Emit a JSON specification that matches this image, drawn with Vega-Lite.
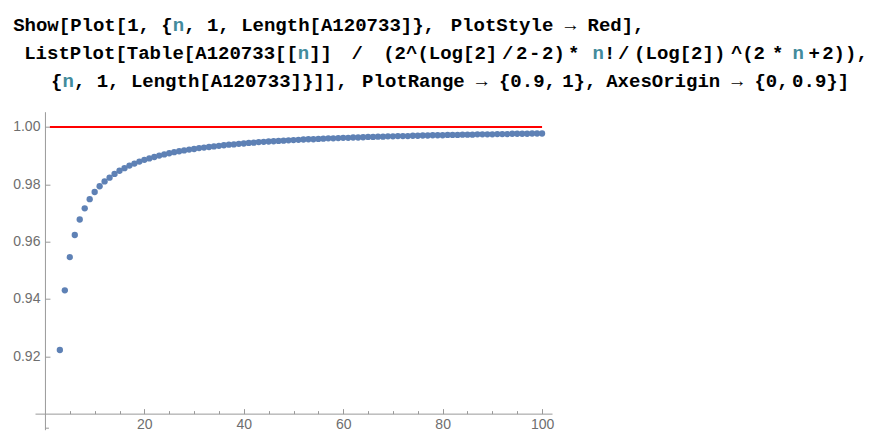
{
  "$schema": "https://vega.github.io/schema/vega-lite/v6.json",
  "background": "white",
  "padding": 0,
  "spacing": 11.7,
  "config": {"view": {"stroke": null}},
  "resolve": {"scale": {"x": "independent", "y": "independent", "color": "independent"}},
  "vconcat": [
    {
      "width": 842.15,
      "height": 100,
      "data": {"values": [
        {"line": 0, "col": 1.14, "t": "Show[Plot[1, {", "k": "code"},
        {"line": 0, "col": 15.14, "t": "n", "k": "var"},
        {"line": 0, "col": 16.14, "t": ", 1, Length[A120733]},", "k": "code"},
        {"line": 0, "col": 39.52, "t": "PlotStyle → Red],", "k": "code"},
        {"line": 1, "col": 2.11, "t": "ListPlot[Table[A120733[[", "k": "code"},
        {"line": 1, "col": 26.11, "t": "n", "k": "var"},
        {"line": 1, "col": 27.11, "t": "]]", "k": "code"},
        {"line": 1, "col": 30.82, "t": "/", "k": "code"},
        {"line": 1, "col": 33.6, "t": "(2^(Log[2]", "k": "code"},
        {"line": 1, "col": 44.02, "t": "/", "k": "code"},
        {"line": 1, "col": 45.25, "t": "2", "k": "code"},
        {"line": 1, "col": 46.39, "t": "-", "k": "code"},
        {"line": 1, "col": 47.54, "t": "2)", "k": "code"},
        {"line": 1, "col": 49.81, "t": "*", "k": "code"},
        {"line": 1, "col": 51.96, "t": "n", "k": "var"},
        {"line": 1, "col": 52.96, "t": "!", "k": "code"},
        {"line": 1, "col": 54.19, "t": "/", "k": "code"},
        {"line": 1, "col": 55.61, "t": "(Log[2])", "k": "code"},
        {"line": 1, "col": 64.11, "t": "^", "k": "code"},
        {"line": 1, "col": 65.09, "t": "(2", "k": "code"},
        {"line": 1, "col": 67.7, "t": "*", "k": "code"},
        {"line": 1, "col": 69.5, "t": "n", "k": "var"},
        {"line": 1, "col": 70.9, "t": "+", "k": "code"},
        {"line": 1, "col": 72.11, "t": "2)),", "k": "code"},
        {"line": 2, "col": 4.47, "t": "{", "k": "code"},
        {"line": 2, "col": 5.47, "t": "n", "k": "var"},
        {"line": 2, "col": 6.47, "t": ", 1, Length[A120733]}]],", "k": "code"},
        {"line": 2, "col": 31.75, "t": "PlotRange → {0.9,", "k": "code"},
        {"line": 2, "col": 49.3, "t": "1},", "k": "code"},
        {"line": 2, "col": 53.16, "t": "AxesOrigin → {0,", "k": "code"},
        {"line": 2, "col": 69.47, "t": "0.9}]", "k": "code"}
      ]},
      "mark": {"type": "text", "font": "Liberation Mono", "fontWeight": "bold", "fontSize": 19, "align": "left", "baseline": "alphabetic"},
      "encoding": {
        "x": {"field": "col", "type": "quantitative", "scale": {"domain": [3.057, 76.93], "nice": false, "zero": false}, "axis": null},
        "y": {"field": "line", "type": "quantitative", "scale": {"domain": [-1.0906, 2.4618], "reverse": true, "nice": false, "zero": false}, "axis": null},
        "text": {"field": "t"},
        "color": {"field": "k", "type": "nominal", "scale": {"domain": ["code", "var"], "range": ["#000000", "#438b9c"]}, "legend": null}
      }
    },
    {
      "width": 517,
      "height": 318,
      "resolve": {"axis": {"x": "independent"}},
      "layer": [
        {
          "data": {"values": [{"n": 1, "v": 1}, {"n": 100, "v": 1}]},
          "mark": {"type": "line", "color": "#ff0000", "strokeWidth": 2},
          "encoding": {
            "x": {"field": "n", "type": "quantitative", "scale": {"domain": [-2, 102], "nice": false, "zero": false},
              "axis": {"title": null, "orient": "bottom", "offset": -16.06, "grid": false,
                "values": [20, 40, 60, 80, 100],
                "tickSize": -5, "labelPadding": 9,
                "domainColor": "#999999", "tickColor": "#999999", "labelColor": "#6e6e6e",
                "labelFont": "Liberation Sans", "labelFontSize": 14}},
            "y": {"field": "v", "type": "quantitative", "scale": {"domain": [0.8944, 1.0053], "nice": false, "zero": false},
              "axis": {"title": null, "orient": "left", "offset": -9.94, "grid": false,
                "values": [0.895, 0.905, 0.91, 0.915, 0.92, 0.925, 0.93, 0.935, 0.94, 0.945, 0.95, 0.955, 0.96, 0.965, 0.97, 0.975, 0.98, 0.985, 0.99, 0.995, 1.0, 1.005],
                "labelExpr": "abs(datum.value * 50 - round(datum.value * 50)) < 0.001 ? format(datum.value, '.2f') : ''",
                "tickSize": {"condition": {"test": "abs(datum.value * 50 - round(datum.value * 50)) < 0.001", "value": -5}, "value": -3.5},
                "labelPadding": 10, "labelOverlap": false, "labelFlush": false, "minExtent": 44.8,
                "domainColor": "#999999", "tickColor": "#999999", "labelColor": "#6e6e6e",
                "labelFont": "Liberation Sans", "labelFontSize": 14}}
          }
        },
        {
          "data": {"values": [
            {"n": 3, "v": 0.9222}, {"n": 4, "v": 0.943}, {"n": 5, "v": 0.9546}, {"n": 6, "v": 0.9623},
            {"n": 7, "v": 0.9677}, {"n": 8, "v": 0.9716}, {"n": 9, "v": 0.9748}, {"n": 10, "v": 0.9773},
            {"n": 11, "v": 0.9793}, {"n": 12, "v": 0.981}, {"n": 13, "v": 0.9823}, {"n": 14, "v": 0.9836},
            {"n": 15, "v": 0.9847}, {"n": 16, "v": 0.9856}, {"n": 17, "v": 0.9865}, {"n": 18, "v": 0.9872},
            {"n": 19, "v": 0.9879}, {"n": 20, "v": 0.9885}, {"n": 21, "v": 0.989}, {"n": 22, "v": 0.9895},
            {"n": 23, "v": 0.99}, {"n": 24, "v": 0.9904}, {"n": 25, "v": 0.9908}, {"n": 26, "v": 0.9912},
            {"n": 27, "v": 0.9915}, {"n": 28, "v": 0.9918}, {"n": 29, "v": 0.9921}, {"n": 30, "v": 0.9923},
            {"n": 31, "v": 0.9926}, {"n": 32, "v": 0.9928}, {"n": 33, "v": 0.993}, {"n": 34, "v": 0.9932},
            {"n": 35, "v": 0.9934}, {"n": 36, "v": 0.9936}, {"n": 37, "v": 0.9938}, {"n": 38, "v": 0.9939},
            {"n": 39, "v": 0.9941}, {"n": 40, "v": 0.9942}, {"n": 41, "v": 0.9944}, {"n": 42, "v": 0.9945},
            {"n": 43, "v": 0.9947}, {"n": 44, "v": 0.9948}, {"n": 45, "v": 0.9949}, {"n": 46, "v": 0.995},
            {"n": 47, "v": 0.9951}, {"n": 48, "v": 0.9952}, {"n": 49, "v": 0.9953}, {"n": 50, "v": 0.9954},
            {"n": 51, "v": 0.9955}, {"n": 52, "v": 0.9956}, {"n": 53, "v": 0.9957}, {"n": 54, "v": 0.9957},
            {"n": 55, "v": 0.9958}, {"n": 56, "v": 0.9959}, {"n": 57, "v": 0.996}, {"n": 58, "v": 0.996},
            {"n": 59, "v": 0.9961}, {"n": 60, "v": 0.9962}, {"n": 61, "v": 0.9962}, {"n": 62, "v": 0.9963},
            {"n": 63, "v": 0.9963}, {"n": 64, "v": 0.9964}, {"n": 65, "v": 0.9965}, {"n": 66, "v": 0.9965},
            {"n": 67, "v": 0.9966}, {"n": 68, "v": 0.9966}, {"n": 69, "v": 0.9967}, {"n": 70, "v": 0.9967},
            {"n": 71, "v": 0.9968}, {"n": 72, "v": 0.9968}, {"n": 73, "v": 0.9968}, {"n": 74, "v": 0.9969},
            {"n": 75, "v": 0.9969}, {"n": 76, "v": 0.997}, {"n": 77, "v": 0.997}, {"n": 78, "v": 0.9971},
            {"n": 79, "v": 0.9971}, {"n": 80, "v": 0.9971}, {"n": 81, "v": 0.9972}, {"n": 82, "v": 0.9972},
            {"n": 83, "v": 0.9972}, {"n": 84, "v": 0.9973}, {"n": 85, "v": 0.9973}, {"n": 86, "v": 0.9973},
            {"n": 87, "v": 0.9974}, {"n": 88, "v": 0.9974}, {"n": 89, "v": 0.9974}, {"n": 90, "v": 0.9974},
            {"n": 91, "v": 0.9975}, {"n": 92, "v": 0.9975}, {"n": 93, "v": 0.9975}, {"n": 94, "v": 0.9976},
            {"n": 95, "v": 0.9976}, {"n": 96, "v": 0.9976}, {"n": 97, "v": 0.9976}, {"n": 98, "v": 0.9977},
            {"n": 99, "v": 0.9977}, {"n": 100, "v": 0.9977}
          ]},
          "mark": {"type": "circle", "size": 40, "color": "#5e81b5", "opacity": 1},
          "encoding": {
            "x": {"field": "n", "type": "quantitative",
              "axis": {"title": null, "orient": "bottom", "offset": -16.06, "grid": false, "domain": false, "labels": false,
                "values": [5, 10, 15, 25, 30, 35, 45, 50, 55, 65, 70, 75, 85, 90, 95],
                "tickSize": -3, "tickColor": "#999999"}},
            "y": {"field": "v", "type": "quantitative"}
          }
        }
      ]
    }
  ]
}
